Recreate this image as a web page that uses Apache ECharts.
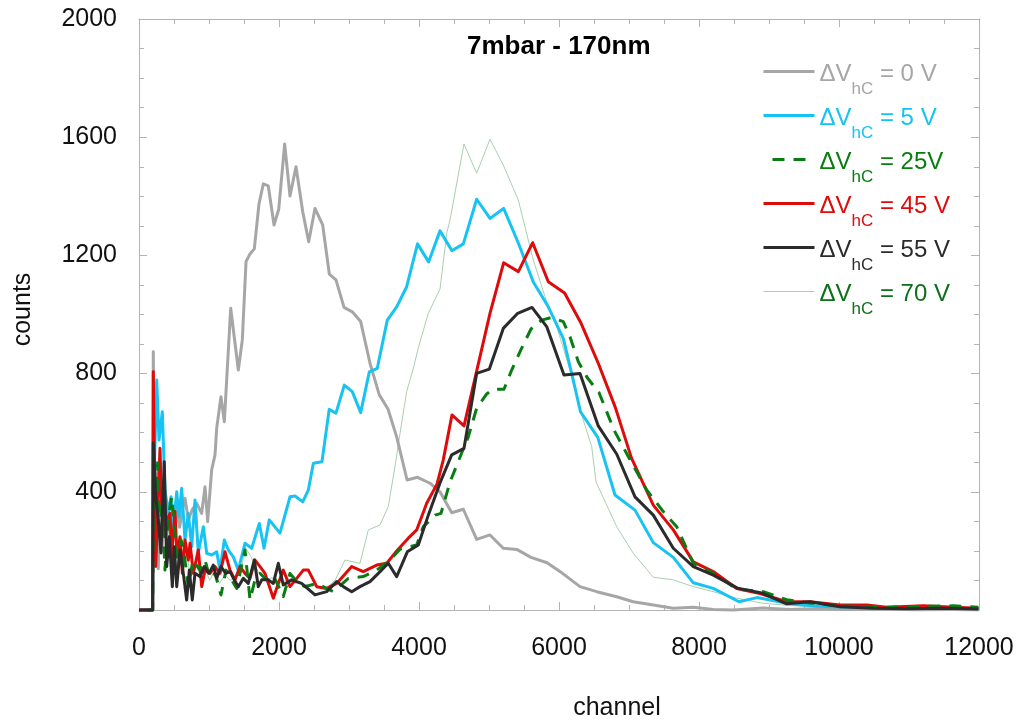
<!DOCTYPE html>
<html>
<head>
<meta charset="utf-8">
<script src="https://cdn.jsdelivr.net/npm/echarts@6/dist/echarts.min.js"></script>
<style>
  html, body { margin: 0; padding: 0; background: #fff; }
  #chart { width: 1019px; height: 727px; }
</style>
</head>
<body>
<div id="chart"></div>
<script>
// Spectra: [channel, counts] for each high-voltage setting
const spec0V = [[0,0],[195,0],[204,874],[228,300],[250,500],[275,140],[300,400],[330,200],[360,380],[390,250],[420,330],[450,230],[480,320],[510,260],[545,350],[580,280],[620,340],[657,378],[705,305],[760,340],[824,361],[895,327],[943,417],[981,299],[1038,474],[1086,525],[1110,615],[1171,722],[1219,637],[1310,1021],[1419,812],[1476,914],[1529,1179],[1586,1205],[1647,1222],[1714,1374],[1776,1442],[1847,1435],[1929,1303],[1996,1356],[2081,1577],[2157,1401],[2243,1500],[2339,1348],[2424,1246],[2514,1359],[2624,1303],[2719,1137],[2814,1117],[2929,1024],[3047,1009],[3167,976],[3300,835],[3433,728],[3557,680],[3681,586],[3830,440],[3979,449],[4157,429],[4300,400],[4467,329],[4633,341],[4824,239],[5014,254],[5204,209],[5396,205],[5600,178],[5829,160],[6050,124],[6300,79],[6539,62],[6824,45],[7061,28],[7347,17],[7633,6],[7919,9],[8204,2],[8490,0],[8914,7],[9300,2],[9700,5],[10100,2],[10600,3],[11100,1],[11600,2],[12000,1]];

const spec5V = [[0,0],[195,0],[204,350],[253,778],[286,575],[333,671],[371,406],[419,328],[457,383],[490,282],[539,400],[571,316],[610,412],[657,237],[704,327],[753,214],[800,372],[847,193],[919,282],[967,192],[1039,186],[1110,197],[1157,135],[1219,237],[1276,203],[1347,180],[1419,135],[1514,226],[1610,209],[1719,293],[1786,209],[1861,305],[2014,260],[2157,383],[2229,386],[2339,366],[2419,406],[2490,496],[2529,498],[2614,502],[2717,679],[2814,666],[2933,761],[3047,739],[3167,668],[3290,806],[3404,818],[3547,981],[3681,1026],[3824,1094],[3979,1239],[4137,1178],[4300,1283],[4471,1216],[4633,1239],[4824,1390],[5014,1325],[5209,1359],[5419,1242],[5633,1110],[5847,1026],[6061,919],[6181,801],[6307,671],[6554,584],[6800,389],[7086,338],[7347,228],[7633,178],[7919,92],[8204,73],[8571,28],[8829,42],[9253,23],[9490,17],[9800,12],[10100,10],[10500,8],[11000,6],[11500,7],[12000,5]];

const spec25V = [[0,0],[195,0],[204,282],[267,497],[290,237],[329,372],[371,135],[414,305],[467,383],[514,260],[561,147],[600,237],[633,214],[704,79],[771,169],[871,135],[943,169],[1014,108],[1086,124],[1171,51],[1243,135],[1324,102],[1396,73],[1514,203],[1586,34],[1657,102],[1729,124],[1824,102],[1919,118],[2061,45],[2157,124],[2276,90],[2371,79],[2539,90],[2776,62],[2990,107],[3204,113],[3396,135],[3586,169],[3729,206],[3967,220],[4061,282],[4229,321],[4314,327],[4443,433],[4621,538],[4704,586],[4824,683],[4967,731],[5053,747],[5214,747],[5324,812],[5467,886],[5600,951],[5753,981],[5896,990],[6061,976],[6157,925],[6276,840],[6407,785],[6571,736],[6786,609],[6993,518],[7253,406],[7490,333],[7681,282],[7919,158],[8204,124],[8539,71],[8919,62],[9253,35],[9586,24],[10014,14],[10681,9],[11157,12],[11633,14],[11990,9]];

const spec45V = [[0,0],[195,0],[204,806],[239,147],[300,547],[324,350],[371,248],[400,305],[443,327],[467,180],[514,333],[543,183],[586,248],[619,124],[657,237],[704,169],[729,226],[776,124],[847,203],[896,79],[943,135],[1014,124],[1086,147],[1157,124],[1229,197],[1300,135],[1371,102],[1443,147],[1514,124],[1586,107],[1657,169],[1729,147],[1800,124],[1919,40],[1990,90],[2061,135],[2157,79],[2253,107],[2347,135],[2419,135],[2539,79],[2681,73],[2824,90],[3039,147],[3204,130],[3396,152],[3539,158],[3693,203],[3847,243],[3967,271],[4110,361],[4257,426],[4347,508],[4471,660],[4643,623],[5014,1004],[5209,1175],[5419,1145],[5624,1243],[5847,1111],[6080,1073],[6314,971],[6561,835],[6807,684],[7036,514],[7347,355],[7633,271],[7919,163],[8204,130],[8539,73],[8871,56],[9253,28],[9586,28],[10014,17],[10396,17],[10681,9],[11204,14],[11633,9],[11990,6]];

const spec55V = [[0,0],[195,0],[204,565],[239,383],[276,305],[314,193],[361,502],[396,147],[433,248],[476,79],[504,214],[539,79],[586,203],[633,124],[681,34],[719,135],[761,34],[800,124],[871,113],[933,147],[1000,124],[1061,152],[1110,107],[1171,147],[1239,124],[1300,130],[1361,102],[1419,79],[1490,107],[1561,90],[1647,169],[1704,79],[1753,102],[1847,102],[1919,90],[1990,158],[2061,85],[2181,102],[2324,90],[2514,51],[2681,62],[2824,96],[2919,79],[3039,62],[3157,79],[3300,96],[3419,124],[3561,158],[3681,113],[3833,197],[3990,220],[4133,321],[4300,430],[4467,525],[4643,547],[4824,801],[5004,815],[5204,953],[5410,1004],[5614,1024],[5824,959],[6071,795],[6300,800],[6561,623],[6824,528],[7086,383],[7347,321],[7633,209],[7919,147],[8204,118],[8550,74],[8894,58],[9253,21],[9586,28],[10014,11],[10490,6],[10967,4],[11490,6],[11990,3]];

const spec70V = [[0,0],[195,0],[204,420],[240,250],[280,380],[320,200],[360,300],[400,180],[450,260],[500,150],[560,220],[620,130],[680,190],[740,110],[800,160],[870,120],[940,140],[1010,100],[1080,130],[1150,90],[1230,120],[1300,100],[1380,110],[1460,130],[1514,214],[1600,180],[1700,130],[1800,100],[1900,110],[2000,90],[2100,100],[2250,90],[2400,85],[2550,80],[2680,75],[2800,100],[2943,169],[3157,158],[3276,271],[3443,288],[3561,350],[3657,485],[3729,598],[3824,739],[3919,818],[3990,887],[4133,1004],[4300,1086],[4396,1275],[4443,1320],[4643,1577],[4824,1478],[5014,1593],[5204,1506],[5419,1387],[5633,1184],[5824,1043],[5967,959],[6157,812],[6324,660],[6467,553],[6529,433],[6824,282],[7061,192],[7347,111],[7633,102],[7919,79],[8204,62],[8539,40],[8914,23],[9300,15],[9800,10],[10400,8],[11000,6],[12000,5]];

// Legend entries: series name, voltage text, line colour, text colour, line width
const seriesNames = ['0 V', '5 V', '25V', '45 V', '55 V', '70 V'];
const voltText = ['0 V', '5 V', '25V', '45 V', '55 V', '70 V'];
const lineColors = ['#a6a6a6', '#17c3f3', '#0a7d12', '#de0b0b', '#2b2b2b', '#a9cfb1'];
const textColors = ['#a6a6a6', '#17c3f3', '#0a7d12', '#de0b0b', '#2b2b2b', '#0e6e1a'];
const lineWidths = [3, 3, 3, 3, 3, 1];

const xTicks = { min: 0, max: 12000, interval: 2000 };
const yTicks = { min: 0, max: 2000, interval: 400 };

const FONT = '"Liberation Sans", Arial, Helvetica, sans-serif';
const AXIS_GRAY = '#b3b3b3';

// "ΔV" + subscript "hC" + " = n V" in each entry's colour
const rich = {};
textColors.forEach((c, i) => {
  rich['m' + i] = { fontSize: 24, fontFamily: FONT, color: c, padding: [17, 0, 0, 0], verticalAlign: 'top' };
  rich['s' + i] = { fontSize: 17, fontFamily: FONT, color: c, padding: [36, 0, 0, 0], verticalAlign: 'top' };
});

function frameAxis(extra) {
  return Object.assign({
    type: 'value',
    axisLine: { show: true, onZero: false, lineStyle: { color: AXIS_GRAY, width: 1 } },
    axisTick: { show: true, inside: true, length: 8, lineStyle: { color: AXIS_GRAY } },
    minorTick: { show: true, splitNumber: 4, length: 5, lineStyle: { color: AXIS_GRAY } },
    splitLine: { show: false },
    minorSplitLine: { show: false }
  }, extra);
}

// Drawing order: thin 70 V trace underneath, 55 V on top
const lineSeries = [
  { name: '70 V', data: spec70V, idx: 5 },
  { name: '0 V', data: spec0V, idx: 0 },
  { name: '5 V', data: spec5V, idx: 1 },
  { name: '45 V', data: spec45V, idx: 3 },
  { name: '25V', data: spec25V, idx: 2, dash: true },
  { name: '55 V', data: spec55V, idx: 4 }
].map(s => ({
  name: s.name,
  type: 'line',
  data: s.data,
  xAxisIndex: 0,
  yAxisIndex: 0,
  symbol: 'none',
  clip: false,
  animation: false,
  lineStyle: {
    color: lineColors[s.idx],
    width: lineWidths[s.idx],
    type: s.dash ? [12, 9] : 'solid',
    dashOffset: s.dash ? 12 : 0,
    join: 'round'
  },
  itemStyle: { color: lineColors[s.idx] }
}));

const chart = echarts.init(document.getElementById('chart'), null, { renderer: 'canvas' });
chart.setOption({
  backgroundColor: '#ffffff',
  animation: false,
  title: {
    text: '7mbar - 170nm',
    left: 467,
    top: 34,
    padding: 0,
    textStyle: { fontFamily: FONT, fontSize: 26, fontWeight: 'bold', color: '#000' }
  },
  grid: { left: 139, right: 40, top: 19, bottom: 117 },
  legend: {
    left: 762,
    top: 62,
    padding: 0,
    orient: 'vertical',
    itemWidth: 51,
    itemHeight: 14,
    itemGap: 8,
    selectedMode: false,
    data: seriesNames.map((n, i) => ({ name: n, lineStyle: { width: lineWidths[i] } })),
    itemStyle: { opacity: 0 },
    formatter: function (name) {
      const i = seriesNames.indexOf(name);
      return '{m' + i + '|ΔV}{s' + i + '|hC}{m' + i + '| = ' + voltText[i] + '}';
    },
    textStyle: { fontFamily: FONT, fontSize: 24, rich: rich }
  },
  xAxis: [
    frameAxis(Object.assign({
      position: 'bottom',
      name: 'channel',
      nameLocation: 'middle',
      nameGap: 86,
      nameTextStyle: { fontFamily: FONT, fontSize: 25, color: '#111', padding: [0, 0, 0, 116] },
      axisLabel: {
        show: true, margin: 26, fontFamily: FONT, fontSize: 25, color: '#111',
        formatter: v => String(v)
      }
    }, xTicks)),
    frameAxis(Object.assign({ position: 'top', axisLabel: { show: false } }, xTicks))
  ],
  yAxis: [
    frameAxis(Object.assign({
      position: 'left',
      name: 'counts',
      nameLocation: 'middle',
      nameRotate: 90,
      nameGap: 103,
      nameTextStyle: { fontFamily: FONT, fontSize: 25, color: '#111', padding: [0, 0, 0, 10] },
      axisLabel: {
        show: true, margin: 22, fontFamily: FONT, fontSize: 25, color: '#111',
        formatter: v => (v === 0 ? '' : String(v))
      }
    }, yTicks)),
    frameAxis(Object.assign({ position: 'right', axisLabel: { show: false } }, yTicks))
  ],
  series: lineSeries
});
</script>
</body>
</html>
